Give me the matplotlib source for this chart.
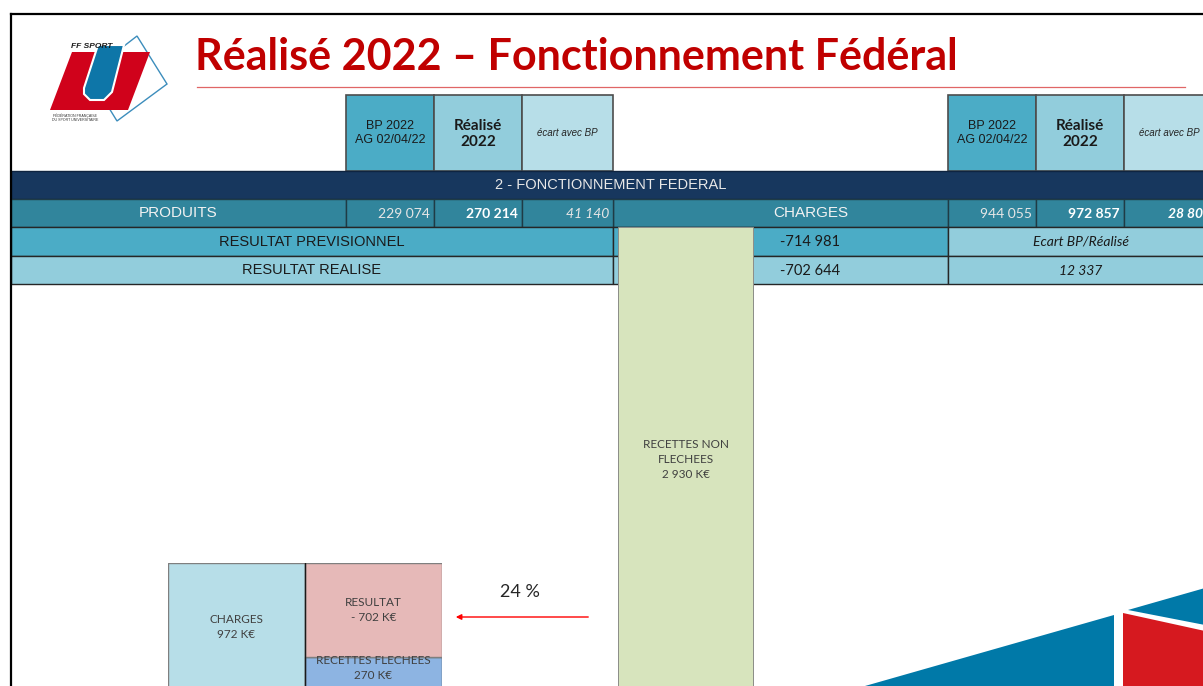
import matplotlib
matplotlib.use("Agg")
import matplotlib.pyplot as plt
from matplotlib.patches import Rectangle, Polygon

# data
header_cols = ["BP 2022\nAG 02/04/22", "Réalisé\n2022", "écart avec BP"]
produits_vals = [229074, 270214, 41140]
charges_vals = [944055, 972857, 28802]
resultat_prev = -714981
resultat_real = -702644
ecart_resultat = 12337

box_labels = ["CHARGES", "RESULTAT", "RECETTES FLECHEES", "RECETTES NON\nFLECHEES"]
box_values_k = [972, -702, 270, 2930]

W, H = 1203, 686
fig = plt.figure(figsize=(W / 100, H / 100), dpi=100)
ax = fig.add_axes([0, 0, 1, 1])
ax.set_xlim(0, W)
ax.set_ylim(H, 0)
ax.axis("off")

ARIAL = "Liberation Sans"
CALIBRI = "Lato"

c_dark = "#17375E"
c_teal = "#31859C"
c_mid = "#4BACC6"
c_light = "#92CDDC"
c_pale = "#B7DEE8"


def fmt(v):
    return f"{v:,}".replace(",", " ")


def cell(x0, x1, y0, y1, fc, ec="#262626", lw=1.0):
    ax.add_patch(Rectangle((x0, y0), x1 - x0, y1 - y0, facecolor=fc,
                           edgecolor=ec, linewidth=lw, zorder=2))


# frame
ax.plot([11, W], [14, 14], color="black", lw=1.6, zorder=5)
ax.plot([11, 11], [14, H], color="black", lw=1.6, zorder=5)

# logo
ax.add_patch(Polygon([(137, 36), (167, 84), (117, 121), (88, 74)], closed=True,
                     fill=False, edgecolor="#3C8DBC", lw=1.0, zorder=3))
ax.add_patch(Polygon([(72, 52), (150, 52), (128, 110), (50, 110)], closed=True,
                     facecolor="#D0021B", edgecolor="none", zorder=4))
ax.add_patch(Polygon([(98, 45), (124, 45), (112, 92), (104, 100), (90, 100),
                      (84, 94), (84, 88)], closed=True,
                     facecolor="#0E76A8", edgecolor="white", lw=1.5, zorder=4))
ax.text(92, 46, "FF SPORT", fontsize=6, fontweight="bold", style="italic",
        color="#1a1a1a", ha="center", va="center", zorder=6, family=ARIAL)
ax.text(75, 118, "FÉDÉRATION FRANÇAISE\nDU SPORT UNIVERSITAIRE", fontsize=2.6,
        color="#333333", ha="center", va="center", zorder=6, family=ARIAL,
        linespacing=1.0)

# title
ax.text(195, 57, "Réalisé 2022 – Fonctionnement Fédéral", fontsize=31,
        fontweight="bold", color="#C00000", ha="left", va="center",
        family=CALIBRI)
ax.plot([197, 1185], [87, 87], color="#E06666", lw=0.9)

# header cells (two groups)
for gx in (346, 948):
    xs = [gx, gx + 88, gx + 176, gx + 267]
    fills = [c_mid, c_light, c_pale]
    for i in range(3):
        cell(xs[i], xs[i + 1], 95, 171, fills[i], ec="#4d4d4d", lw=1.2)
    cx = [(xs[i] + xs[i + 1]) / 2 for i in range(3)]
    ax.text(cx[0], 133, header_cols[0], fontsize=9, ha="center", va="center",
            family=ARIAL, color="#1a1a1a", linespacing=1.2, zorder=3)
    ax.text(cx[1], 134, header_cols[1], fontsize=11, fontweight="bold",
            ha="center", va="center", family=CALIBRI, color="#1a1a1a",
            linespacing=1.25, zorder=3)
    ax.text(cx[2], 133, header_cols[2], fontsize=7, style="italic",
            ha="center", va="center", family=ARIAL, color="#262626", zorder=3)

# dark band
cell(11, W + 20, 171, 199, c_dark, ec="#0f2440", lw=1.0)
ax.text(611, 185, "2 - FONCTIONNEMENT FEDERAL", fontsize=10.5, color="#E8E8E8",
        ha="center", va="center", family=ARIAL, zorder=3)

# PRODUITS / CHARGES row
for x0, x1 in [(11, 346), (613, 948)]:
    cell(x0, x1, 199, 227, c_teal, ec="#1f3b45")
ax.text(178, 213, "PRODUITS", fontsize=11, color="#F2F2F2", ha="center",
        va="center", family=ARIAL, zorder=3)
ax.text(811, 213, "CHARGES", fontsize=11, color="#F2F2F2", ha="center",
        va="center", family=ARIAL, zorder=3)
for g, (gx, vals) in enumerate([(346, produits_vals), (948, charges_vals)]):
    xs = [gx, gx + 88, gx + 176, gx + 267]
    for i in range(3):
        cell(xs[i], xs[i + 1], 199, 227, c_teal, ec="#1f3b45")
        bold = i == 1 or (i == 2 and g == 1)
        ax.text(xs[i + 1] - 4, 214, fmt(vals[i]), fontsize=10, ha="right",
                va="center", family=CALIBRI, zorder=3,
                color="white" if bold else "#E6E6E6",
                fontweight="bold" if bold else "normal",
                style="italic" if i == 2 else "normal")

# RESULTAT rows
cell(11, 613, 227, 256, c_mid)
cell(613, 948, 227, 256, c_mid)
cell(948, W + 20, 227, 256, c_light)
cell(11, 613, 256, 284, c_light)
cell(613, 948, 256, 284, c_light)
cell(948, W + 20, 256, 284, c_light)
ax.text(312, 242, "RESULTAT PREVISIONNEL", fontsize=10.5, color="#1a1a1a",
        ha="center", va="center", family=ARIAL, zorder=3)
ax.text(312, 270, "RESULTAT REALISE", fontsize=10.5, color="#1a1a1a",
        ha="center", va="center", family=ARIAL, zorder=3)
ax.text(780, 242, fmt(resultat_prev), fontsize=10.5, color="#1a1a1a",
        ha="left", va="center", family=CALIBRI, zorder=3)
ax.text(780, 271, fmt(resultat_real), fontsize=10.5, color="#1a1a1a",
        ha="left", va="center", family=CALIBRI, zorder=3)
ax.text(1081, 242, "Ecart BP/Réalisé", fontsize=10, style="italic",
        color="#1a1a1a", ha="center", va="center", family=CALIBRI, zorder=3)
ax.text(1081, 271, fmt(ecart_resultat), fontsize=10, style="italic",
        color="#1a1a1a", ha="center", va="center", family=CALIBRI, zorder=3)

# bottom right decoration
ax.add_patch(Polygon([(858, H + 2), (1114, 615), (1114, H + 2)], closed=True,
                     facecolor="#0079A8", edgecolor="none", zorder=2))
ax.add_patch(Polygon([(1123, 613), (W + 2, 631), (W + 2, H + 2), (1123, H + 2)],
                     closed=True, facecolor="#D6191F", edgecolor="none", zorder=2))
ax.add_patch(Polygon([(1128, 610), (W + 2, 588), (W + 2, 625)], closed=True,
                     facecolor="#0079A8", edgecolor="none", zorder=2))


def fig_axes(x0, x1, y_top, y_bot):
    return fig.add_axes([x0 / W, 1 - y_bot / H, (x1 - x0) / W, (y_bot - y_top) / H])


box_font = dict(fontsize=8.5, color="#404040", ha="center", va="center",
                family="Lato", linespacing=1.45)

# green bar: recettes non flechees
axg = fig_axes(618, 754, 227, 700)
axg.set_xlim(-0.5, 0.5)
axg.set_ylim(0, box_values_k[3])
axg.bar([0], [box_values_k[3]], width=1.0, color="#D7E4BD", edgecolor="#7F7F7F",
        linewidth=1.2)
axg.text(0, box_values_k[3] * 0.508,
         f"{box_labels[3]}\n{fmt(box_values_k[3])} K€", **box_font)
axg.axis("off")
axg.patch.set_alpha(0)

# stacked boxes: charges vs resultat + recettes flechees
axb = fig_axes(168, 442, 563, 693)
axb.set_xlim(-0.5, 1.5)
axb.set_ylim(0, box_values_k[0])
axb.bar([0], [box_values_k[0]], width=1.0, color="#B7DEE8",
        edgecolor="#7F7F7F", linewidth=1.0)
axb.bar([1], [box_values_k[2]], width=1.0, color="#8DB4E2",
        edgecolor="#595959", linewidth=1.0)
axb.bar([1], [-box_values_k[1]], bottom=box_values_k[2], width=1.0,
        color="#E6B9B8", edgecolor="#7F7F7F", linewidth=1.0)
axb.axvline(0.5, color="#1a1a1a", lw=1.0)
axb.text(0, box_values_k[0] * 0.51, f"{box_labels[0]}\n{box_values_k[0]} K€",
         **box_font)
axb.text(1, box_values_k[2] - box_values_k[1] * 0.5,
         f"{box_labels[1]}\n- {abs(box_values_k[1])} K€", **box_font)
axb.text(1, box_values_k[2] * 0.7, f"{box_labels[2]}\n{box_values_k[2]} K€",
         **box_font)
axb.axis("off")
axb.patch.set_alpha(0)

# share of non-earmarked revenue used to cover the deficit
pct = round(abs(box_values_k[1]) / box_values_k[3] * 100)
ax.text(520, 592, f"{pct} %", fontsize=13, color="#262626", ha="center",
        va="center", family="Lato")
ax.annotate("", xy=(453, 617), xytext=(591, 617),
            arrowprops=dict(arrowstyle="-|>", color="#FF0000", lw=1.0,
                            mutation_scale=8))

fig.savefig("out.png", dpi=100)
